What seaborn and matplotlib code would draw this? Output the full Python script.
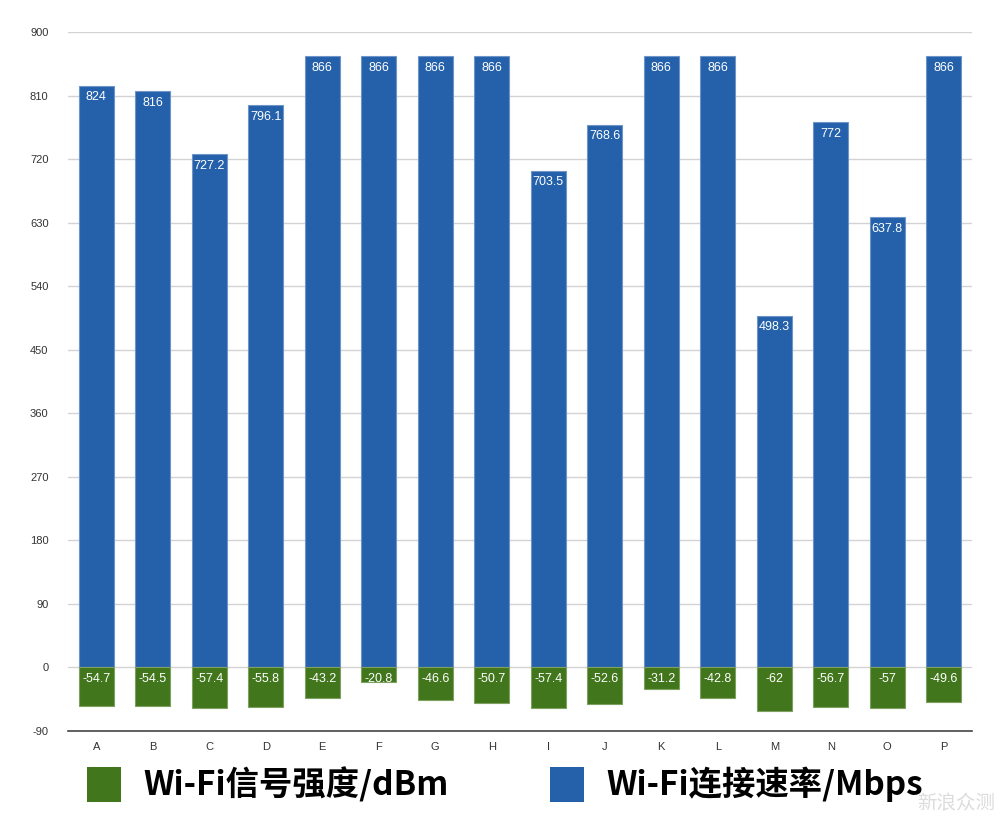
import matplotlib
matplotlib.use("Agg")
import matplotlib.pyplot as plt
import seaborn as sns
import pandas as pd
import numpy as np
from matplotlib.patches import Rectangle

categories = list("ABCDEFGHIJKLMNOP")
speed = [824, 816, 727.2, 796.1, 866, 866, 866, 866, 703.5, 768.6, 866, 866, 498.3, 772, 637.8, 866]
signal = [-54.7, -54.5, -57.4, -55.8, -43.2, -20.8, -46.6, -50.7, -57.4, -52.6, -31.2, -42.8, -62, -56.7, -57, -49.6]
yticks = list(range(-90, 901, 90))
legend_labels = ["Wi-Fi信号强度/dBm", "Wi-Fi连接速率/Mbps"]

BLUE = "#2461AA"
GREEN = "#41761C"

sns.set_theme(style="white")
plt.rcParams['font.family'] = ['Noto Sans CJK SC', 'DejaVu Sans']

df = pd.DataFrame({"cat": categories, "speed": speed, "signal": signal})

fig = plt.figure(figsize=(10, 8.24), dpi=100)
ax = fig.add_axes([0.068, 0.113, 0.904, 0.848])

sns.barplot(data=df, x="cat", y="speed", color=BLUE, saturation=1, width=0.62,
            edgecolor="#6f95c8", linewidth=0.8, ax=ax, zorder=3)
sns.barplot(data=df, x="cat", y="signal", color=GREEN, saturation=1, width=0.62,
            edgecolor="#7fa060", linewidth=0.8, ax=ax, zorder=3)

ax.set_xlim(-0.5, len(categories) - 0.5)
ax.set_ylim(-90, 900)
ax.set_yticks(yticks)
ax.set_yticklabels([str(t) for t in yticks], fontsize=8, color="#333333", family=['Liberation Sans', 'DejaVu Sans'])
ax.set_xlabel("")
ax.set_ylabel("")
ax.set_xticks(range(len(categories)))
ax.set_xticklabels(categories, fontsize=8, color="#333333", family=['Liberation Sans', 'DejaVu Sans'])
ax.tick_params(axis="x", length=0, pad=8)
ax.tick_params(axis="y", length=0, pad=14)

for t in yticks[1:]:
    ax.axhline(t, color="#d3d3d3", linewidth=1, zorder=1)

for s in ["top", "right", "left"]:
    ax.spines[s].set_visible(False)
ax.spines["bottom"].set_color("#444444")
ax.spines["bottom"].set_linewidth(1.2)

# band boundary tick marks
ax.set_xticks(np.arange(-0.5, len(categories), 1.0), minor=True)
ax.tick_params(axis="x", which="minor", length=4, direction="in", color="#444444", width=1)

for i, (sp, sg) in enumerate(zip(speed, signal)):
    ax.annotate(f"{sp:g}", (i, sp), xytext=(0, -4), textcoords="offset points",
                ha="center", va="top", color="white", fontsize=9,
                family=['Liberation Sans', 'DejaVu Sans'], zorder=5)
    ax.annotate(f"{sg:g}", (i, 0), xytext=(0, -4), textcoords="offset points",
                ha="center", va="top", color="white", fontsize=9,
                family=['Liberation Sans', 'DejaVu Sans'], zorder=5)

# legend
for (x0, col, lab) in [(0.087, GREEN, legend_labels[0]), (0.550, BLUE, legend_labels[1])]:
    fig.patches.append(Rectangle((x0, 0.027), 0.034, 0.042, transform=fig.transFigure,
                                 facecolor=col, edgecolor="none"))
    fig.text(x0 + 0.056, 0.048, lab, fontsize=24, fontweight="black", va="center", ha="left",
             color="black")

fig.text(0.995, 0.012, "新浪众测", fontsize=14, color="#dcdcdc", ha="right", va="bottom")

fig.savefig("out.png", dpi=100, facecolor="white")
